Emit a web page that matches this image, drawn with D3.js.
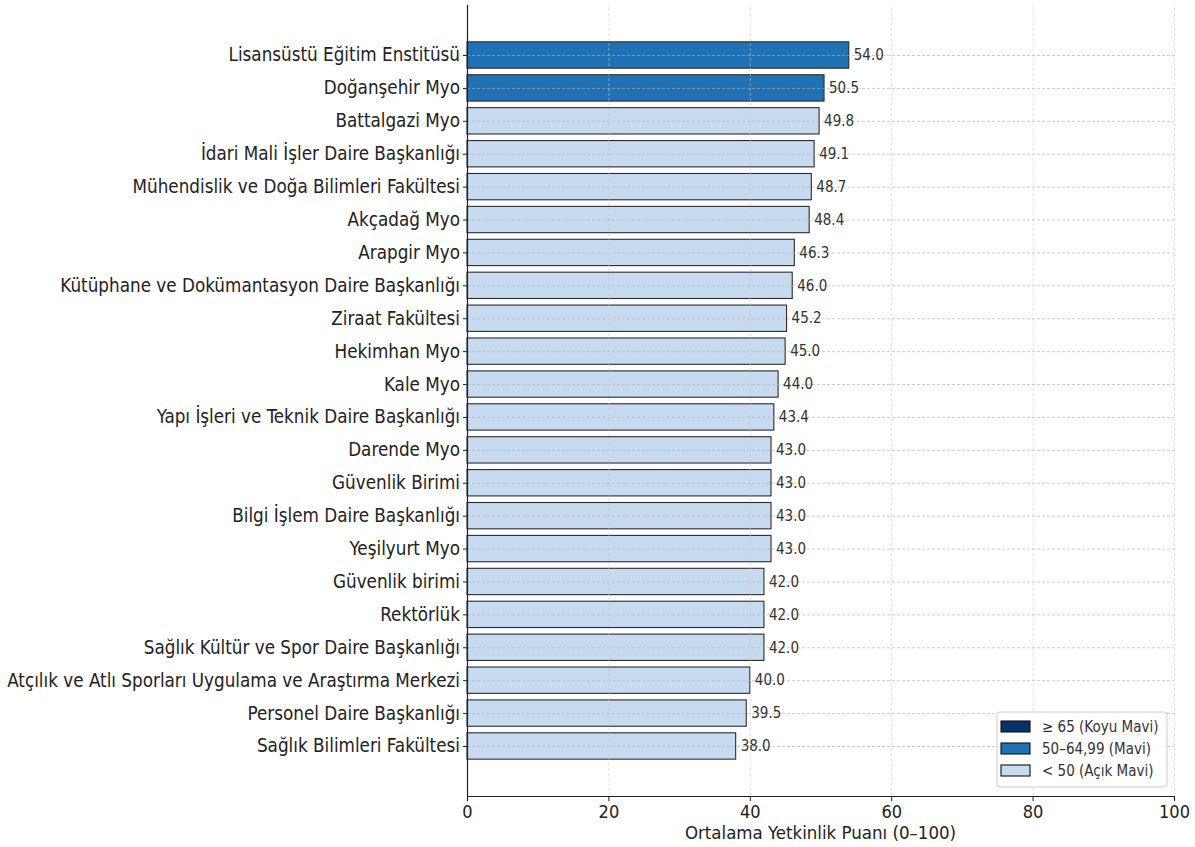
<!DOCTYPE html>
<html>
<head>
<meta charset="utf-8">
<script src="https://cdn.jsdelivr.net/npm/d3@7"></script>
<style>
  body { margin: 0; background: #fff; }
  svg text { font-family: "DejaVu Sans Condensed", "DejaVu Sans", sans-serif; font-stretch: condensed; }
</style>
</head>
<body>
<script>
// units, top to bottom as drawn
var units = [
  "Lisansüstü Eğitim Enstitüsü", "Doğanşehir Myo", "Battalgazi Myo",
  "İdari Mali İşler Daire Başkanlığı", "Mühendislik ve Doğa Bilimleri Fakültesi",
  "Akçadağ Myo", "Arapgir Myo", "Kütüphane ve Dokümantasyon Daire Başkanlığı",
  "Ziraat Fakültesi", "Hekimhan Myo", "Kale Myo",
  "Yapı İşleri ve Teknik Daire Başkanlığı", "Darende Myo", "Güvenlik Birimi",
  "Bilgi İşlem Daire Başkanlığı", "Yeşilyurt Myo", "Güvenlik birimi",
  "Rektörlük", "Sağlık Kültür ve Spor Daire Başkanlığı",
  "Atçılık ve Atlı Sporları Uygulama ve Araştırma Merkezi",
  "Personel Daire Başkanlığı", "Sağlık Bilimleri Fakültesi"
];
var scores = [54.0, 50.5, 49.8, 49.1, 48.7, 48.4, 46.3, 46.0, 45.2, 45.0, 44.0,
              43.4, 43.0, 43.0, 43.0, 43.0, 42.0, 42.0, 42.0, 40.0, 39.5, 38.0];
var xTicks = [0, 20, 40, 60, 80, 100];
var legendLabels = ["≥ 65 (Koyu Mavi)", "50–64,99 (Mavi)", "< 50 (Açık Mavi)"];
var legendColors = ["#08306b", "#2171b5", "#c6dbef"];

function colorFor(v) {
  if (v >= 65) return legendColors[0];
  if (v >= 50) return legendColors[1];
  return legendColors[2];
}

var margin = {top: 5, right: 21, bottom: 51, left: 467},
    width = 1195 - margin.left - margin.right,
    height = 847 - margin.top - margin.bottom;

var svg = d3.select("body").append("svg")
    .attr("width", 1195)
    .attr("height", 847)
  .append("g")
    .attr("transform", "translate(" + margin.left + "," + margin.top + ")");

var x = d3.scaleLinear().domain([0, 100]).range([0, width]);
// index scale, a bit of padding above first and below last bar
var y = d3.scaleLinear().domain([-1.52, units.length - 1 + 1.52]).range([0, height]);
var step = y(1) - y(0);
var barH = step * 0.8;

// bars
svg.selectAll(".bar")
  .data(scores)
  .enter().append("rect")
    .attr("class", "bar")
    .attr("x", x(0))
    .attr("y", function(d, i) { return y(i) - barH / 2; })
    .attr("width", function(d) { return x(d) - x(0); })
    .attr("height", barH)
    .attr("fill", function(d) { return colorFor(d); })
    .attr("stroke", "#2b2b2b")
    .attr("stroke-width", 1.1);

// gridlines (drawn over bars, faint)
svg.append("g")
    .attr("class", "grid")
    .attr("transform", "translate(0," + height + ")")
    .call(d3.axisBottom(x).tickValues(xTicks).tickSize(-height).tickFormat(""))
    .call(function(g) { g.select(".domain").remove(); })
    .selectAll("line")
      .attr("stroke", "#c8c8c8")
      .attr("stroke-opacity", 0.55)
      .attr("stroke-dasharray", "3,2");

svg.append("g")
    .attr("class", "grid")
    .call(d3.axisLeft(y).tickValues(d3.range(units.length)).tickSize(-width).tickFormat(""))
    .call(function(g) { g.select(".domain").remove(); })
    .selectAll("line")
      .attr("stroke", "#b0b0b0")
      .attr("stroke-opacity", 0.65)
      .attr("stroke-dasharray", "3,2");

// value labels
svg.selectAll(".val")
  .data(scores)
  .enter().append("text")
    .attr("class", "val")
    .attr("x", function(d) { return x(d) + 5; })
    .attr("y", function(d, i) { return y(i); })
    .attr("dy", "0.35em")
    .attr("font-size", 15)
    .attr("fill", "#333")
    .text(function(d) { return d.toFixed(1); });

// x axis
var xAxis = svg.append("g")
    .attr("transform", "translate(0," + height + ")")
    .call(d3.axisBottom(x).tickValues(xTicks).tickSize(5).tickPadding(4));
xAxis.select(".domain").attr("stroke", "#222").attr("stroke-width", 1.2);
xAxis.selectAll(".tick line").attr("stroke", "#222");
xAxis.selectAll("text").attr("font-size", 18).attr("fill", "#222")
    .attr("font-family", null);

svg.append("text")
    .attr("x", width / 2)
    .attr("y", height + 43)
    .attr("text-anchor", "middle")
    .attr("font-size", 18.5)
    .attr("fill", "#222")
    .text("Ortalama Yetkinlik Puanı (0–100)");

// y axis
var yAxis = svg.append("g")
    .call(d3.axisLeft(y).tickValues(d3.range(units.length))
      .tickFormat(function(i) { return units[i]; }).tickSize(4).tickPadding(3));
yAxis.select(".domain").attr("d", "M0.5,0V" + height).attr("stroke", "#222").attr("stroke-width", 1.2);
yAxis.selectAll(".tick line").attr("stroke", "#222");
yAxis.selectAll("text").attr("font-size", 18.7).attr("fill", "#222")
    .attr("font-family", null);

// legend
var lg = svg.append("g")
    .attr("transform", "translate(" + (width - 177) + "," + (height - 84) + ")");
lg.append("rect")
    .attr("width", 170).attr("height", 75)
    .attr("rx", 3)
    .attr("fill", "#fff").attr("fill-opacity", 0.85)
    .attr("stroke", "#ccc");
var item = lg.selectAll(".item")
  .data(legendLabels)
  .enter().append("g")
    .attr("transform", function(d, i) { return "translate(4," + (7 + i * 22) + ")"; });
item.append("rect")
    .attr("width", 29).attr("height", 11)
    .attr("y", 2)
    .attr("fill", function(d, i) { return legendColors[i]; })
    .attr("stroke", "#111").attr("stroke-width", 1.1);
item.append("text")
    .attr("x", 41).attr("y", 8)
    .attr("dy", "0.35em")
    .attr("font-size", 15)
    .attr("fill", "#333")
    .text(function(d) { return d; });
</script>
</body>
</html>
